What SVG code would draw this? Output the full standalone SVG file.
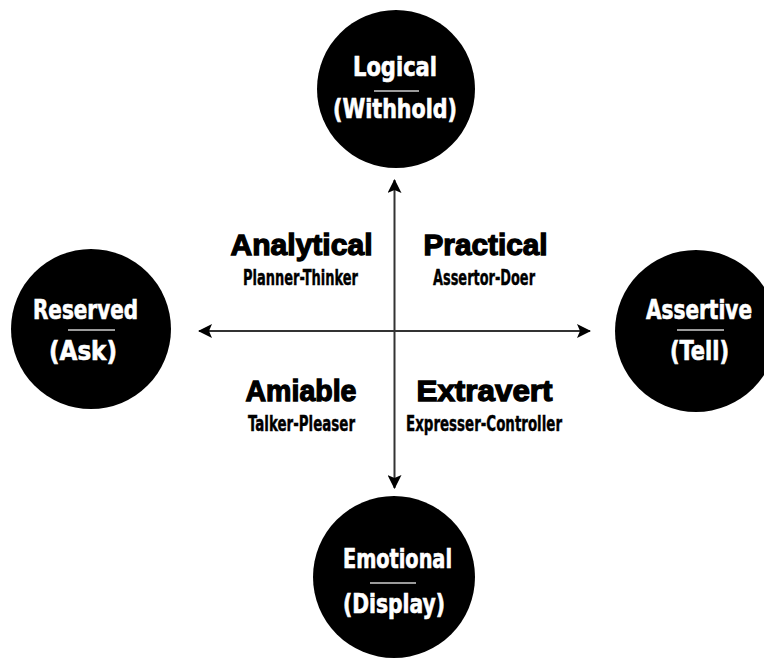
<svg xmlns="http://www.w3.org/2000/svg" width="764" height="658" viewBox="0 0 764 658">
<style>
.bg{fill:#ffffff}
.circ{fill:#000000}
.ct{fill:#ffffff;stroke:#ffffff;stroke-width:0.6;font-family:"Liberation Sans Narrow","DejaVu Sans Condensed","Liberation Sans",sans-serif;font-weight:bold;font-size:26px;text-anchor:middle}
.div{stroke:#cfcfcf;stroke-width:1.5}
.head{fill:#000000;stroke:#000000;stroke-width:1.3;font-family:"Liberation Sans","Arial",sans-serif;font-weight:bold;font-size:30px;text-anchor:middle}
.sub{fill:#000000;stroke:#000000;stroke-width:0.4;font-family:"Liberation Sans Narrow","DejaVu Sans Condensed","Liberation Sans",sans-serif;font-weight:bold;font-size:21px;text-anchor:middle}
.axis{stroke:#333333;stroke-width:2;fill:none}
</style>
<defs>
<marker id="ah" viewBox="0 0 14 14" refX="13" refY="7" markerWidth="14" markerHeight="14" markerUnits="userSpaceOnUse" orient="auto">
<path d="M0,0 L14,7 L0,14 L3,7 Z" fill="#000000"/>
</marker>
</defs>
<rect class="bg" x="0" y="0" width="764" height="658"/>
<g id="connectors">
<line class="axis" x1="394.5" y1="331" x2="394.5" y2="180" marker-end="url(#ah)"/>
<line class="axis" x1="394.5" y1="331" x2="394.5" y2="488" marker-end="url(#ah)"/>
<line class="axis" x1="394.5" y1="331" x2="199" y2="331" marker-end="url(#ah)"/>
<line class="axis" x1="394.5" y1="331" x2="590" y2="331" marker-end="url(#ah)"/>
</g>
<g id="node-logical">
<circle class="circ" cx="396" cy="89" r="79"/>
<text class="ct" x="395" y="76" textLength="84" lengthAdjust="spacingAndGlyphs">Logical</text>
<line class="div" x1="374" y1="91" x2="419" y2="91"/>
<text class="ct" x="395" y="118" textLength="124" lengthAdjust="spacingAndGlyphs">(Withhold)</text>
</g>
<g id="node-reserved">
<circle class="circ" cx="91" cy="329" r="80"/>
<text class="ct" x="85.5" y="319" textLength="105" lengthAdjust="spacingAndGlyphs">Reserved</text>
<line class="div" x1="68" y1="330" x2="115" y2="330"/>
<text class="ct" x="83" y="360" textLength="68" lengthAdjust="spacingAndGlyphs">(Ask)</text>
</g>
<g id="node-assertive">
<circle class="circ" cx="696" cy="331" r="81"/>
<text class="ct" x="699" y="319" textLength="106" lengthAdjust="spacingAndGlyphs">Assertive</text>
<line class="div" x1="677" y1="330" x2="724" y2="330"/>
<text class="ct" x="699.5" y="360" textLength="59" lengthAdjust="spacingAndGlyphs">(Tell)</text>
</g>
<g id="node-emotional">
<circle class="circ" cx="394" cy="577" r="81"/>
<text class="ct" x="397.5" y="568" textLength="109" lengthAdjust="spacingAndGlyphs">Emotional</text>
<line class="div" x1="370" y1="583" x2="416" y2="583"/>
<text class="ct" x="394" y="613" textLength="102" lengthAdjust="spacingAndGlyphs">(Display)</text>
</g>
<g id="quadrant-analytical">
<text class="head" x="301.5" y="255" textLength="142" lengthAdjust="spacingAndGlyphs">Analytical</text>
<text class="sub" x="300.5" y="285" textLength="115" lengthAdjust="spacingAndGlyphs">Planner-Thinker</text>
</g>
<g id="quadrant-practical">
<text class="head" x="485.5" y="255" textLength="124" lengthAdjust="spacingAndGlyphs">Practical</text>
<text class="sub" x="484" y="285" textLength="102" lengthAdjust="spacingAndGlyphs">Assertor-Doer</text>
</g>
<g id="quadrant-amiable">
<text class="head" x="301" y="401" textLength="111" lengthAdjust="spacingAndGlyphs">Amiable</text>
<text class="sub" x="301.5" y="431" textLength="107" lengthAdjust="spacingAndGlyphs">Talker-Pleaser</text>
</g>
<g id="quadrant-extravert">
<text class="head" x="484.5" y="401" textLength="136" lengthAdjust="spacingAndGlyphs">Extravert</text>
<text class="sub" x="484" y="431" textLength="156" lengthAdjust="spacingAndGlyphs">Expresser-Controller</text>
</g>
</svg>
